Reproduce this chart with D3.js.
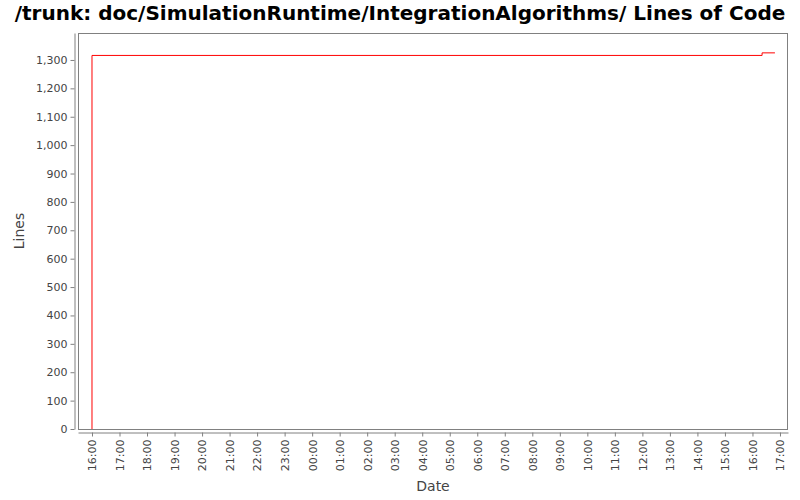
<!DOCTYPE html>
<html>
<head>
<meta charset="utf-8">
<script src="https://cdn.jsdelivr.net/npm/d3@7"></script>
<style>
  html, body { margin: 0; padding: 0; background: #fff; }
  svg { display: block; font-family: "DejaVu Sans", sans-serif; }
</style>
</head>
<body>
<svg id="chart" width="800" height="500"></svg>
<script>
// ---- data ----
const titleText = "/trunk: doc/SimulationRuntime/IntegrationAlgorithms/ Lines of Code";
const xLabel = "Date";
const yLabel = "Lines";
const times = ["2009-01-01T16:00", "2009-01-01T16:00", "2009-01-02T16:21", "2009-01-02T16:49"];
const lines = [0, 1316, 1325, 1325];
const yTicks = [0, 100, 200, 300, 400, 500, 600, 700, 800, 900, 1000, 1100, 1200, 1300];
const xTickTimes = ["2009-01-01T16:00","2009-01-01T17:00","2009-01-01T18:00","2009-01-01T19:00","2009-01-01T20:00",
  "2009-01-01T21:00","2009-01-01T22:00","2009-01-01T23:00","2009-01-02T00:00","2009-01-02T01:00","2009-01-02T02:00",
  "2009-01-02T03:00","2009-01-02T04:00","2009-01-02T05:00","2009-01-02T06:00","2009-01-02T07:00","2009-01-02T08:00",
  "2009-01-02T09:00","2009-01-02T10:00","2009-01-02T11:00","2009-01-02T12:00","2009-01-02T13:00","2009-01-02T14:00",
  "2009-01-02T15:00","2009-01-02T16:00","2009-01-02T17:00"];
const xDomain = ["2009-01-01T15:29.5", "2009-01-02T17:17.5"];
const yDomain = [0, 1395];

// ---- layout ----
const svg = d3.select("#chart");
const parse = d3.timeParse("%Y-%m-%dT%H:%M");
const parseDom = s => { const [a, b] = s.split("."); const d = parse(a); if (b) d.setSeconds(+b * 6); return d; };
const plot = { left: 78, top: 33, right: 788, bottom: 429 };

const x = d3.scaleTime().domain(xDomain.map(parseDom)).range([plot.left, plot.right]);
const y = d3.scaleLinear().domain(yDomain).range([plot.bottom, plot.top]);

const data = times.map((t, i) => ({ t: parse(t), v: lines[i] }));

// title
svg.append("text")
  .attr("x", 400).attr("y", 20)
  .attr("text-anchor", "middle")
  .attr("font-size", 20).attr("font-weight", "bold")
  .attr("fill", "#000")
  .text(titleText);

// plot border
svg.append("rect")
  .attr("x", plot.left + 0.5).attr("y", plot.top + 0.5)
  .attr("width", plot.right - plot.left - 1).attr("height", plot.bottom - plot.top)
  .attr("fill", "#fff").attr("stroke", "#808080").attr("stroke-width", 1);

// y axis
const yAxis = d3.axisLeft(y).tickValues(yTicks).tickFormat(d3.format(",")).tickSizeInner(4).tickSizeOuter(0).tickPadding(3);
const gy = svg.append("g").attr("transform", `translate(${plot.left - 3.5},0)`).call(yAxis);
gy.select(".domain").attr("stroke", "#808080");
gy.selectAll(".tick line").attr("stroke", "#808080");
gy.selectAll(".tick text").attr("fill", "#444").attr("font-size", 11).attr("font-family", "DejaVu Sans");

// x axis
const xAxis = d3.axisBottom(x).tickValues(xTickTimes.map(parse)).tickFormat(d3.timeFormat("%H:%M")).tickSizeInner(4).tickSizeOuter(0);
const gx = svg.append("g").attr("transform", `translate(0,${plot.bottom + 3.5})`).call(xAxis);
gx.select(".domain").attr("stroke", "#808080");
gx.selectAll(".tick line").attr("stroke", "#808080");
gx.selectAll(".tick text")
  .attr("fill", "#444").attr("font-size", 11).attr("font-family", "DejaVu Sans")
  .attr("transform", "rotate(-90)")
  .attr("text-anchor", "end")
  .attr("x", -7).attr("y", 0).attr("dy", "0.35em");

// line
const line = d3.line().x(d => x(d.t)).y(d => y(d.v)).curve(d3.curveStepAfter);
svg.append("path")
  .datum(data)
  .attr("fill", "none").attr("stroke", "#ff0000").attr("stroke-width", 1)
  .attr("d", line);

// axis labels
svg.append("text")
  .attr("x", (plot.left + plot.right) / 2).attr("y", 491)
  .attr("text-anchor", "middle").attr("font-size", 14).attr("fill", "#444")
  .text(xLabel);
svg.append("text")
  .attr("transform", `translate(24,${(plot.top + plot.bottom) / 2}) rotate(-90)`)
  .attr("text-anchor", "middle").attr("font-size", 14).attr("fill", "#444")
  .text(yLabel);
</script>
</body>
</html>
